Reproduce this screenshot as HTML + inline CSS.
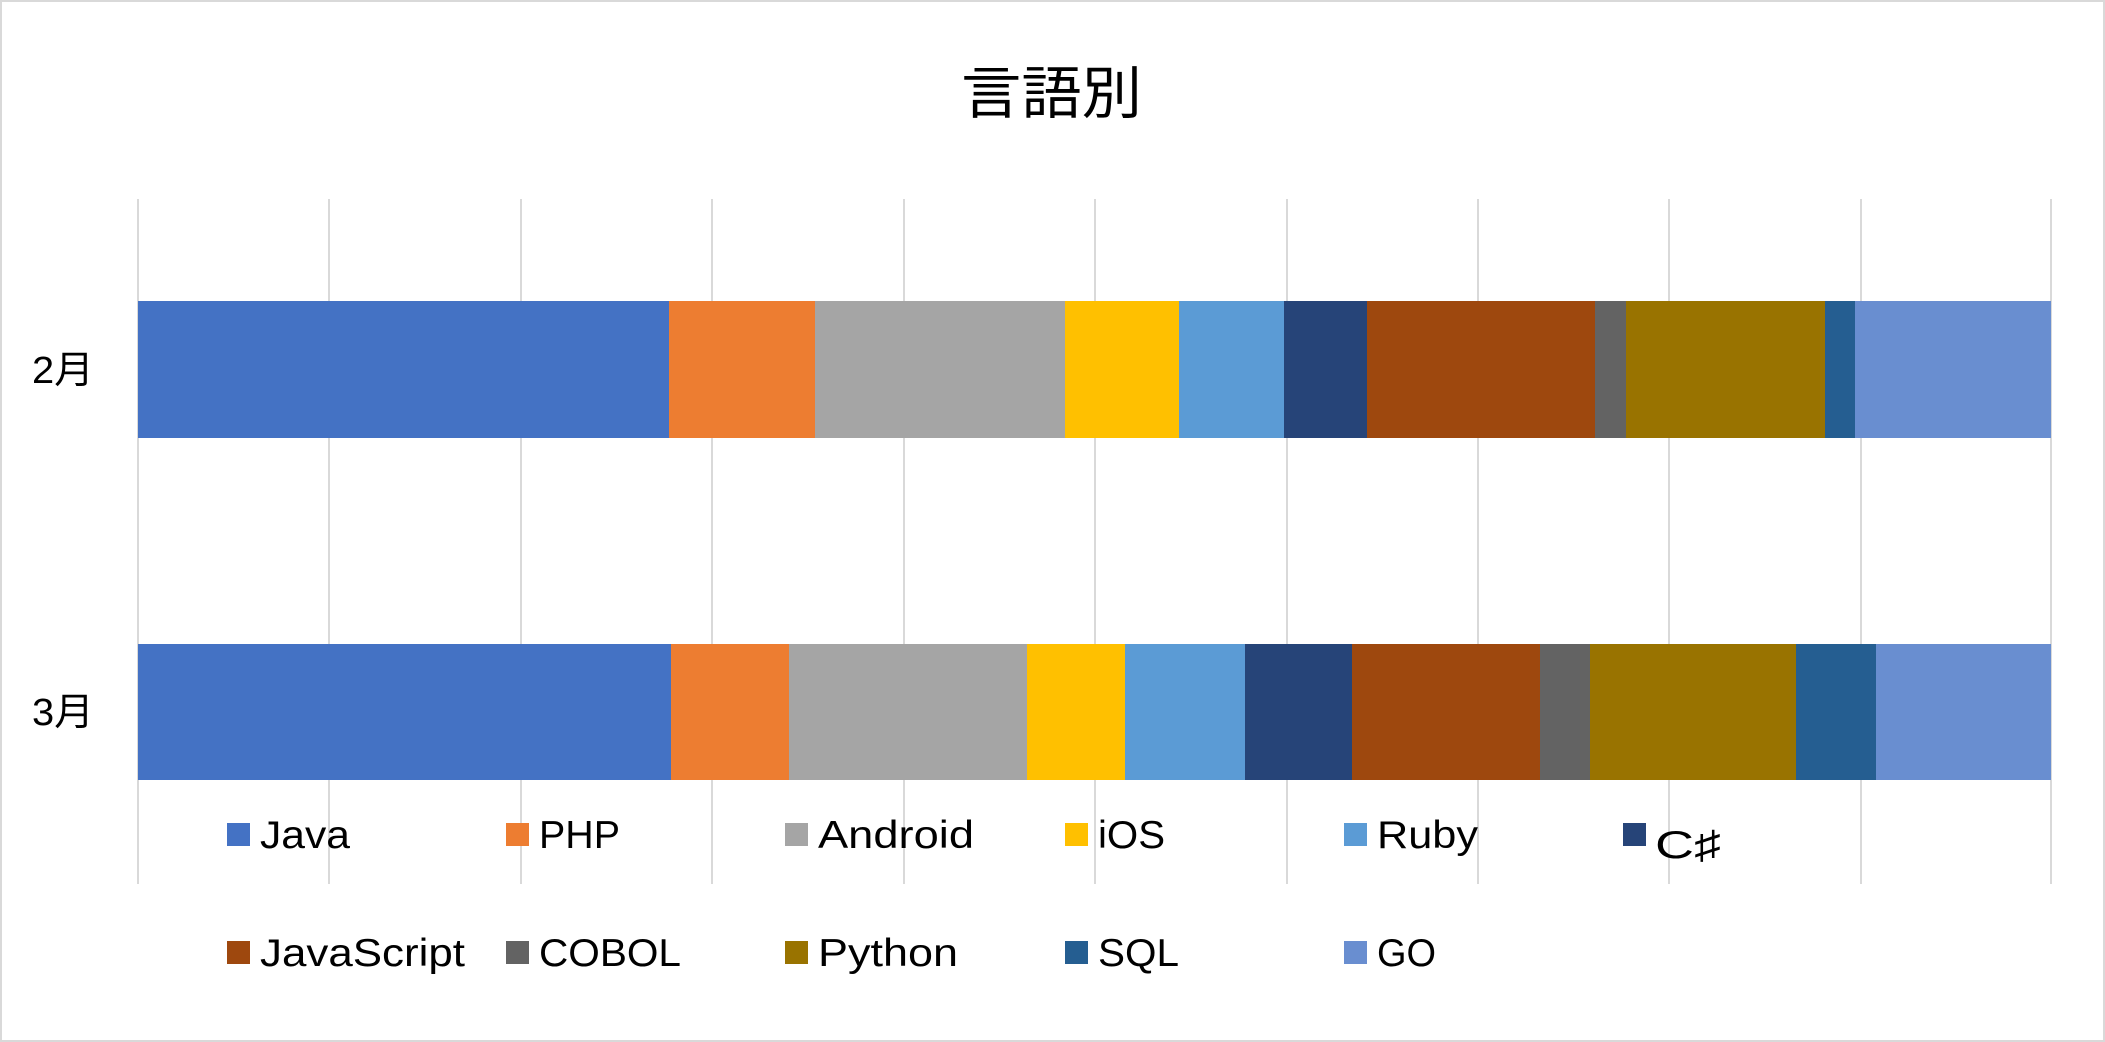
<!DOCTYPE html>
<html><head><meta charset="utf-8"><style>
html,body{margin:0;padding:0;background:#fff;}
svg{display:block;font-family:"Liberation Sans","Noto Sans CJK JP",sans-serif;}
</style></head><body>
<svg width="2105" height="1042" viewBox="0 0 2105 1042" xmlns="http://www.w3.org/2000/svg">
<rect x="1" y="1" width="2103" height="1040" fill="#fff" stroke="#d9d9d9" stroke-width="2"/>
<text x="961" y="113" font-size="57" textLength="181" lengthAdjust="spacingAndGlyphs" fill="#000">言語別</text>
<g stroke="#d9d9d9" stroke-width="2">
<line x1="138" y1="199" x2="138" y2="884"/><line x1="329" y1="199" x2="329" y2="884"/>
<line x1="521" y1="199" x2="521" y2="884"/><line x1="712" y1="199" x2="712" y2="884"/>
<line x1="904" y1="199" x2="904" y2="884"/><line x1="1095" y1="199" x2="1095" y2="884"/>
<line x1="1287" y1="199" x2="1287" y2="884"/><line x1="1478" y1="199" x2="1478" y2="884"/>
<line x1="1669" y1="199" x2="1669" y2="884"/><line x1="1861" y1="199" x2="1861" y2="884"/>
<line x1="2051" y1="199" x2="2051" y2="884"/>
</g>
<g>
<rect x="138" y="301" width="531" height="137" fill="#4472c4"/>
<rect x="669" y="301" width="146" height="137" fill="#ed7d31"/>
<rect x="815" y="301" width="250" height="137" fill="#a5a5a5"/>
<rect x="1065" y="301" width="114" height="137" fill="#ffc000"/>
<rect x="1179" y="301" width="105" height="137" fill="#5b9bd5"/>
<rect x="1284" y="301" width="83" height="137" fill="#264478"/>
<rect x="1367" y="301" width="228" height="137" fill="#9e480e"/>
<rect x="1595" y="301" width="31" height="137" fill="#636363"/>
<rect x="1626" y="301" width="199" height="137" fill="#997300"/>
<rect x="1825" y="301" width="30" height="137" fill="#255e91"/>
<rect x="1855" y="301" width="196" height="137" fill="#698ed0"/>

<rect x="138" y="644" width="533" height="136" fill="#4472c4"/>
<rect x="671" y="644" width="118" height="136" fill="#ed7d31"/>
<rect x="789" y="644" width="238" height="136" fill="#a5a5a5"/>
<rect x="1027" y="644" width="98" height="136" fill="#ffc000"/>
<rect x="1125" y="644" width="120" height="136" fill="#5b9bd5"/>
<rect x="1245" y="644" width="107" height="136" fill="#264478"/>
<rect x="1352" y="644" width="188" height="136" fill="#9e480e"/>
<rect x="1540" y="644" width="50" height="136" fill="#636363"/>
<rect x="1590" y="644" width="206" height="136" fill="#997300"/>
<rect x="1796" y="644" width="80" height="136" fill="#255e91"/>
<rect x="1876" y="644" width="175" height="136" fill="#698ed0"/>
</g>
<g font-size="38" fill="#000">
<text x="32" y="383" textLength="62" lengthAdjust="spacingAndGlyphs">2月</text>
<text x="32" y="725" textLength="62" lengthAdjust="spacingAndGlyphs">3月</text>
</g>
<g font-size="39" fill="#000" lengthAdjust="spacingAndGlyphs">
<rect x="227" y="823" width="23" height="23" fill="#4472c4"/><text x="260" y="848" textLength="90" lengthAdjust="spacingAndGlyphs">Java</text>
<rect x="506" y="823" width="23" height="23" fill="#ed7d31"/><text x="539" y="848" textLength="81" lengthAdjust="spacingAndGlyphs">PHP</text>
<rect x="785" y="823" width="23" height="23" fill="#a5a5a5"/><text x="818" y="848" textLength="156" lengthAdjust="spacingAndGlyphs">Android</text>
<rect x="1065" y="823" width="23" height="23" fill="#ffc000"/><text x="1098" y="848" textLength="67" lengthAdjust="spacingAndGlyphs">iOS</text>
<rect x="1344" y="823" width="23" height="23" fill="#5b9bd5"/><text x="1377" y="848" textLength="101" lengthAdjust="spacingAndGlyphs">Ruby</text>
<rect x="1623" y="823" width="23" height="23" fill="#264478"/><text x="1655" y="858" textLength="66" lengthAdjust="spacingAndGlyphs">C♯</text>
<rect x="227" y="941" width="23" height="23" fill="#9e480e"/><text x="260" y="966" textLength="205" lengthAdjust="spacingAndGlyphs">JavaScript</text>
<rect x="506" y="941" width="23" height="23" fill="#636363"/><text x="539" y="966" textLength="142" lengthAdjust="spacingAndGlyphs">COBOL</text>
<rect x="785" y="941" width="23" height="23" fill="#997300"/><text x="818" y="966" textLength="140" lengthAdjust="spacingAndGlyphs">Python</text>
<rect x="1065" y="941" width="23" height="23" fill="#255e91"/><text x="1098" y="966" textLength="81" lengthAdjust="spacingAndGlyphs">SQL</text>
<rect x="1344" y="941" width="23" height="23" fill="#698ed0"/><text x="1377" y="966" textLength="59" lengthAdjust="spacingAndGlyphs">GO</text>
</g>
</svg>
</body></html>
